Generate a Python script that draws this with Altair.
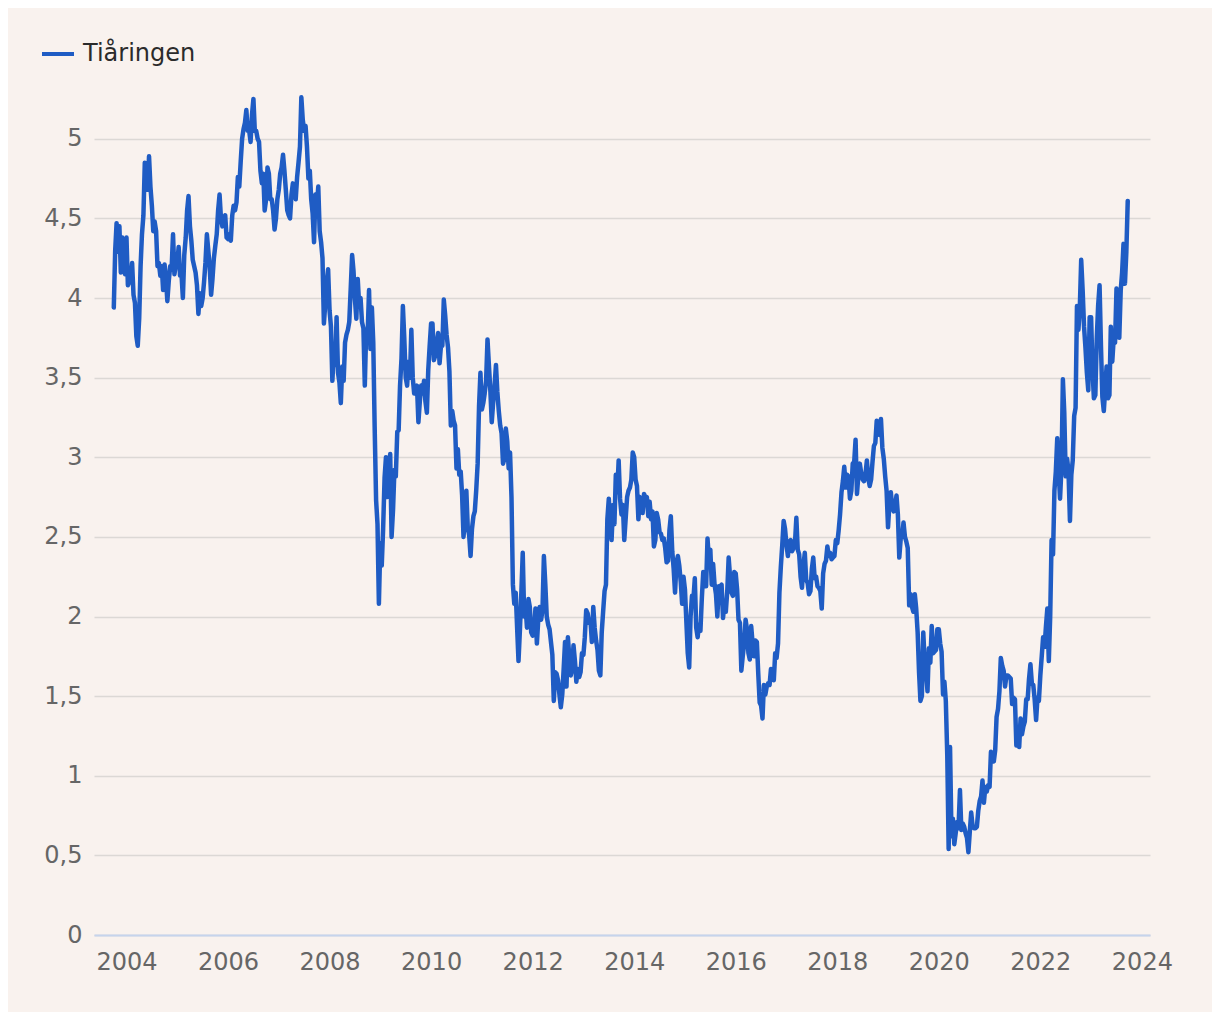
import altair as alt
import pandas as pd

# 10-year yield ("Tiåringen"), sampled on the 1st, 11th and 21st of each month
DAYS = [1, 11, 21]

y2003 = [3.94, 4.30, 4.47,  4.29, 4.45, 4.16,  4.38, 4.20, 4.15]  # from October
y2004 = [4.38, 4.08, 4.10,  4.12, 4.22, 4.02,  3.97, 3.76, 3.70,  3.87, 4.20, 4.40,
         4.52, 4.85, 4.72,  4.68, 4.89, 4.70,  4.58, 4.42, 4.48,  4.42, 4.20, 4.22,
         4.14, 4.20, 4.05,  4.21, 4.12, 3.98,  4.11, 4.20, 4.18,  4.40, 4.15, 4.21]
y2005 = [4.22, 4.32, 4.14,  4.15, 4.00, 4.27,  4.38, 4.55, 4.64,  4.45, 4.36, 4.24,
         4.20, 4.16, 4.08,  3.90, 4.03, 3.95,  4.00, 4.10, 4.22,  4.40, 4.30, 4.20,
         4.02, 4.12, 4.25,  4.33, 4.40, 4.55,  4.65, 4.50, 4.45,  4.50, 4.52, 4.38]
y2006 = [4.37, 4.40, 4.36,  4.52, 4.58, 4.55,  4.60, 4.76, 4.70,  4.86, 5.00, 5.06,
         5.10, 5.18, 5.05,  5.05, 4.98, 5.15,  5.25, 5.05, 5.05,  5.00, 4.98, 4.80,
         4.72, 4.78, 4.55,  4.62, 4.82, 4.78,  4.62, 4.62, 4.55,  4.43, 4.50, 4.62]
y2007 = [4.68, 4.78, 4.82,  4.90, 4.80, 4.68,  4.55, 4.52, 4.50,  4.65, 4.72, 4.68,
         4.62, 4.76, 4.85,  4.95, 5.26, 5.12,  5.05, 5.08, 4.95,  4.75, 4.80, 4.62,
         4.53, 4.35, 4.65,  4.58, 4.70, 4.42,  4.35, 4.25, 3.84,  3.97, 4.10, 4.18]
y2008 = [3.92, 3.82, 3.48,  3.65, 3.58, 3.88,  3.53, 3.47, 3.34,  3.57, 3.48, 3.72,
         3.77, 3.80, 3.85,  4.06, 4.27, 4.17,  3.99, 3.87, 4.12,  3.95, 4.00, 3.85,
         3.81, 3.45, 3.80,  3.77, 4.05, 3.68,  3.94, 3.72, 3.19,  2.73, 2.58, 2.08]
y2009 = [2.46, 2.32, 2.55,  2.87, 3.00, 2.75,  2.85, 3.02, 2.50,  2.67, 2.92, 2.88,
         3.16, 3.17, 3.45,  3.62, 3.95, 3.75,  3.50, 3.45, 3.60,  3.50, 3.80, 3.50,
         3.40, 3.40, 3.45,  3.22, 3.35, 3.45,  3.40, 3.48, 3.35,  3.28, 3.55, 3.70]
y2010 = [3.84, 3.84, 3.61,  3.64, 3.72, 3.78,  3.59, 3.70, 3.70,  3.99, 3.89, 3.77,
         3.69, 3.54, 3.20,  3.29, 3.23, 3.20,  2.93, 3.05, 2.89,  2.91, 2.76, 2.50,
         2.62, 2.79, 2.56,  2.51, 2.38, 2.55,  2.63, 2.66, 2.79,  2.96, 3.32, 3.53]
y2011 = [3.30, 3.34, 3.40,  3.48, 3.74, 3.58,  3.42, 3.22, 3.34,  3.45, 3.58, 3.41,
         3.29, 3.20, 3.15,  2.96, 2.99, 3.18,  3.10, 2.93, 3.03,  2.75, 2.20, 2.08,
         2.15, 1.93, 1.72,  1.92, 2.15, 2.40,  2.00, 2.06, 1.93,  2.11, 2.06, 1.90]
y2012 = [1.88, 1.90, 2.05,  1.83, 1.98, 2.06,  1.98, 2.04, 2.38,  2.20, 2.00, 1.95,
         1.92, 1.84, 1.76,  1.47, 1.65, 1.64,  1.60, 1.51, 1.43,  1.51, 1.67, 1.84,
         1.56, 1.87, 1.75,  1.63, 1.67, 1.82,  1.72, 1.59, 1.67,  1.62, 1.65, 1.77]
y2013 = [1.76, 1.87, 2.04,  2.02, 1.96, 1.98,  1.84, 2.06, 1.93,  1.85, 1.79, 1.66,
         1.63, 1.90, 2.03,  2.16, 2.20, 2.61,  2.74, 2.58, 2.48,  2.70, 2.58, 2.89,
         2.78, 2.98, 2.74,  2.64, 2.70, 2.48,  2.62, 2.75, 2.79,  2.81, 2.86, 3.03]
y2014 = [3.00, 2.86, 2.82,  2.61, 2.75, 2.73,  2.65, 2.77, 2.74,  2.75, 2.63, 2.72,
         2.61, 2.66, 2.44,  2.48, 2.65, 2.61,  2.53, 2.52, 2.48,  2.49, 2.43, 2.34,
         2.35, 2.54, 2.63,  2.41, 2.30, 2.15,  2.34, 2.38, 2.32,  2.22, 2.08, 2.25]
y2015 = [2.17, 1.97, 1.77,  1.68, 2.00, 2.13,  2.11, 2.24, 1.93,  1.87, 1.95, 1.91,
         2.12, 2.28, 2.19,  2.19, 2.49, 2.36,  2.42, 2.20, 2.33,  2.20, 2.14, 2.00,
         2.19, 2.19, 2.20,  1.99, 2.09, 2.03,  2.16, 2.37, 2.25,  2.15, 2.13, 2.28]
y2016 = [2.27, 2.17, 1.98,  1.96, 1.66, 1.75,  1.83, 1.98, 1.92,  1.77, 1.73, 1.94,
         1.83, 1.75, 1.85,  1.84, 1.64, 1.46,  1.44, 1.36, 1.57,  1.51, 1.56, 1.58,
         1.57, 1.67, 1.66,  1.60, 1.77, 1.74,  1.83, 2.15, 2.31,  2.45, 2.60, 2.55]
y2017 = [2.45, 2.38, 2.47,  2.48, 2.41, 2.43,  2.46, 2.62, 2.42,  2.39, 2.25, 2.18,
         2.32, 2.40, 2.23,  2.21, 2.14, 2.16,  2.30, 2.37, 2.24,  2.25, 2.19, 2.18,
         2.16, 2.05, 2.27,  2.33, 2.35, 2.44,  2.38, 2.40, 2.36,  2.37, 2.38, 2.48]
y2018 = [2.46, 2.54, 2.64,  2.78, 2.85, 2.94,  2.81, 2.89, 2.88,  2.74, 2.79, 2.96,
         2.97, 3.11, 2.77,  2.89, 2.96, 2.90,  2.86, 2.85, 2.89,  2.98, 2.87, 2.82,
         2.86, 2.97, 3.07,  3.09, 3.23, 3.19,  3.14, 3.24, 3.06,  2.99, 2.88, 2.79]
y2019 = [2.56, 2.71, 2.78,  2.69, 2.66, 2.69,  2.76, 2.64, 2.37,  2.49, 2.50, 2.59,
         2.50, 2.47, 2.43,  2.07, 2.14, 2.06,  2.03, 2.14, 2.05,  1.90, 1.65, 1.47,
         1.50, 1.90, 1.72,  1.65, 1.53, 1.80,  1.71, 1.94, 1.77,  1.78, 1.79, 1.92]
y2020 = [1.92, 1.83, 1.78,  1.51, 1.59, 1.47,  1.13, 0.54, 1.18,  0.62, 0.73, 0.57,
         0.64, 0.71, 0.67,  0.91, 0.66, 0.70,  0.68, 0.64, 0.61,  0.52, 0.65, 0.77,
         0.68, 0.67, 0.67,  0.68, 0.78, 0.84,  0.87, 0.97, 0.83,  0.93, 0.90, 0.94]
y2021 = [0.93, 1.15, 1.10,  1.09, 1.16, 1.37,  1.42, 1.53, 1.74,  1.69, 1.66, 1.56,
         1.63, 1.63, 1.62,  1.61, 1.45, 1.49,  1.48, 1.19, 1.29,  1.18, 1.36, 1.26,
         1.31, 1.34, 1.48,  1.48, 1.61, 1.70,  1.58, 1.57, 1.48,  1.35, 1.49, 1.47]
y2022 = [1.63, 1.75, 1.87,  1.81, 1.94, 2.05,  1.72, 2.00, 2.48,  2.39, 2.79, 2.91,
         3.12, 2.91, 2.74,  2.94, 3.49, 3.28,  2.88, 2.99, 2.91,  2.60, 2.89, 2.98,
         3.26, 3.31, 3.95,  3.80, 3.94, 4.24,  4.05, 3.82, 3.69,  3.53, 3.42, 3.88]
y2023 = [3.88, 3.55, 3.37,  3.39, 3.74, 3.95,  4.08, 3.70, 3.38,  3.29, 3.43, 3.57,
         3.37, 3.39, 3.82,  3.60, 3.74, 3.72,  4.06, 3.97, 3.75,  4.05, 4.16, 4.34,
         4.09, 4.29, 4.61]  # to September

series_name = "Tiåringen"
x_ticks = [2004, 2006, 2008, 2010, 2012, 2014, 2016, 2018, 2020, 2022, 2024]
y_ticks = [0, 0.5, 1, 1.5, 2, 2.5, 3, 3.5, 4, 4.5, 5]

years = [(2003, 10, y2003), (2004, 1, y2004), (2005, 1, y2005), (2006, 1, y2006),
         (2007, 1, y2007), (2008, 1, y2008), (2009, 1, y2009), (2010, 1, y2010),
         (2011, 1, y2011), (2012, 1, y2012), (2013, 1, y2013), (2014, 1, y2014),
         (2015, 1, y2015), (2016, 1, y2016), (2017, 1, y2017), (2018, 1, y2018),
         (2019, 1, y2019), (2020, 1, y2020), (2021, 1, y2021), (2022, 1, y2022),
         (2023, 1, y2023)]

rows = []
for year, m0, vals in years:
    for i, v in enumerate(vals):
        m = m0 + i // 3
        d = DAYS[i % 3]
        t = year + (m - 1) / 12 + (d - 1) / 365
        rows.append({"t": t, "v": v, "s": series_name})
df = pd.DataFrame(rows)

FONT = "DejaVu Sans"

chart = alt.Chart(df).mark_line(
    strokeWidth=4.5, strokeJoin="round", strokeCap="round"
).encode(
    x=alt.X("t:Q",
            scale=alt.Scale(domain=[2003.36, 2024.16], nice=False, zero=False),
            axis=alt.Axis(values=x_ticks, format="d", title=None, grid=False,
                          ticks=False, tickSize=0, labelPadding=15,
                          domain=True, domainColor="#c6d4ec", domainWidth=2,
                          labelFontSize=24, labelColor="#666666", labelFont=FONT,
                          labelFlush=False, labelOverlap=False)),
    y=alt.Y("v:Q",
            scale=alt.Scale(domain=[0, 5.3], nice=False, zero=True),
            axis=alt.Axis(values=y_ticks, format="~g", title=None, domain=False,
                          ticks=False, tickSize=0, labelPadding=12,
                          grid=True, gridColor="#dcd8d5", gridWidth=1.5,
                          labelExpr="replace(datum.label, '.', ',')",
                          labelFontSize=24, labelColor="#666666", labelFont=FONT)),
    color=alt.Color("s:N", scale=alt.Scale(range=["#1f5cc4"]),
                    legend=alt.Legend(title=None, orient="none", legendX=-54, legendY=-55,
                                      symbolType="stroke", symbolStrokeWidth=4,
                                      symbolSize=1024, labelFontSize=24,
                                      labelColor="#2b2b2b", labelFont=FONT,
                                      labelOffset=7, padding=0)),
).properties(
    width=1056, height=844,
    autosize=alt.AutoSizeParams(type="none"),
    padding={"left": 86, "top": 83, "right": 62, "bottom": 77},
).configure(
    background="#f9f2ee"
).configure_view(stroke=None)

chart.save("out.html", embed_options={"renderer": "svg", "actions": False})
